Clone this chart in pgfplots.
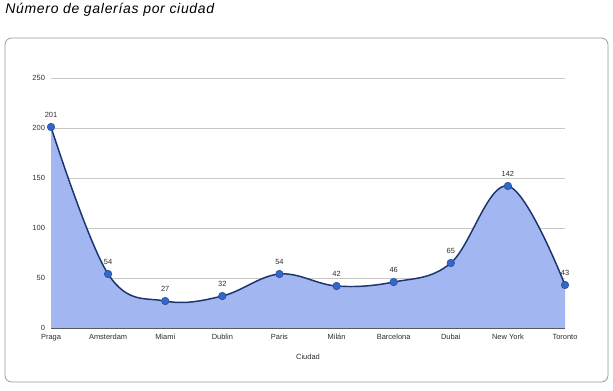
\documentclass[border=0pt]{standalone}
\usepackage{pgfplots}
\pgfplotsset{compat=1.18}
\usepackage{fontspec}
\setmainfont{Liberation Sans}
\definecolor{areafill}{RGB}{162,183,242}
\definecolor{linecol}{RGB}{28,52,110}
\definecolor{markcol}{RGB}{52,103,200}
\definecolor{gridcol}{RGB}{200,200,200}
\definecolor{txtcol}{RGB}{45,45,45}
\begin{document}
\begin{tikzpicture}[x=0.75pt,y=-0.75pt]
\path (0,0) rectangle (613,390);
\draw[gray!80, rounded corners=5pt, line width=0.6pt] (5,38) rectangle (608,382);
\node[anchor=west, font=\itshape\fontsize{10.5}{12}\selectfont\addfontfeature{LetterSpace=5}, inner sep=0] at (5,10) {Número de galerías por ciudad};
\begin{axis}[
 at={(38.25pt,-246pt)}, anchor=south west,
 scale only axis, width=385.5pt, height=187.5pt,
 xmin=0, xmax=9, ymin=0, ymax=250,
 axis line style={draw=none},
 major tick length=0pt,
 ytick={50,100,...,250},
 extra y ticks={0},
 extra y tick style={grid style={draw=black!70, line width=0.8pt}},
 ymajorgrids,
 grid style={draw=gridcol, line width=0.6pt},
 xtick={0,...,9},
 xticklabels={Praga,Amsterdam,Miami,Dublin,Paris,Milán,Barcelona,Dubai,New York,Toronto},
 tick label style={font=\fontsize{5.6}{6}\selectfont, text=txtcol},
 /pgf/number format/assume math mode=true,
 yticklabel style={xshift=-1pt},
 xticklabel style={yshift=-1pt},
 xlabel={Ciudad},
 xlabel style={font=\fontsize{5.6}{6}\selectfont, text=txtcol, yshift=-3pt},
 clip=false,
]
\addplot[fill=areafill, draw=none, smooth, tension=0.62] coordinates {
 (0,201) (1,54) (2,27) (3,32) (4,54) (5,42) (6,46) (7,65) (8,142) (9,43)
} \closedcycle;
\addplot[draw=linecol, line width=1.1pt, smooth, tension=0.62,
 mark=*, mark options={draw=markcol!80!black, fill=markcol, scale=1.4, line width=0.5pt},
 nodes near coords,
 every node near coord/.append style={font=\fontsize{5.6}{6}\selectfont, text=txtcol, yshift=3.5pt},
] coordinates {
 (0,201) (1,54) (2,27) (3,32) (4,54) (5,42) (6,46) (7,65) (8,142) (9,43)
};
\end{axis}
\end{tikzpicture}
\end{document}
